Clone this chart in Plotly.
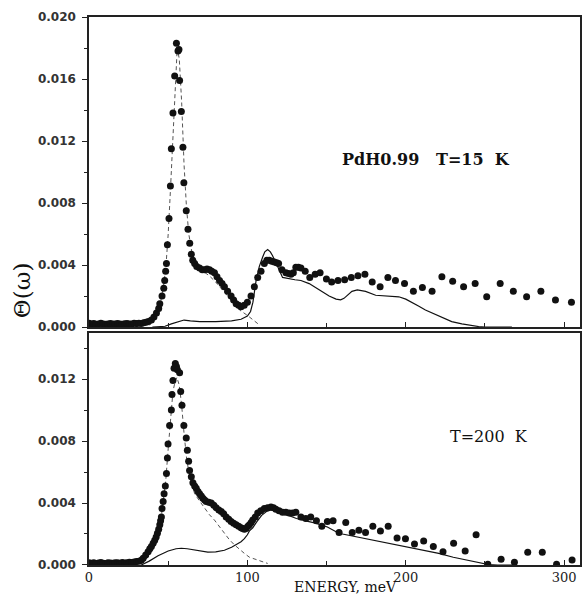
import plotly.graph_objects as go

S = 1e-3  # values below are in units of 0.001

# ---------------- Top panel (T = 15 K) ----------------
top_dots_x = [0, 1.5, 3, 4.5, 6, 7.5, 9, 10.5, 12, 13.5, 15, 16.5, 18, 19.5, 21, 22.5, 24, 25.5,
              27, 28.5, 30, 31.5, 33, 34.5, 36, 37.5,
              39.4, 41, 42.6, 44, 44.7, 46.1, 47.2, 47.8, 48.4, 48.9, 49.5, 50.5, 51.4, 52, 53,
              54.1, 55.2, 56.2, 56.8, 57.2, 58.3, 59.3, 59.9, 61.4, 62.5, 63.6, 64.6, 65.5, 66.7,
              68, 69.8, 71.5, 73, 74.5, 76.1, 77.5, 79.2, 80.8, 82.4, 84, 85.5, 87.5, 89.7, 91.3,
              92.9, 94.5, 96, 98, 100, 102.3, 104.4, 106.5, 108.6, 110.7, 112.3, 113.8, 115.4, 117,
              118.5, 119.7, 121.8, 124.3, 126, 127.5, 129, 130.6, 132.2, 133.8, 136.5, 139.4,
              142.8, 145.9, 149.9, 153.2, 157.2, 161.4, 165.6, 169.8, 174.2, 178.8, 183.8, 188.7,
              193.5, 199.2, 204.8, 210.5, 216.6, 222.8, 229.6, 236.5, 243.8, 251.1, 259.6, 267.9,
              276.3, 285.3, 294.5, 304.6]
top_dots_y = [0.25, 0.2, 0.22, 0.18, 0.2, 0.24, 0.2, 0.17, 0.2, 0.22, 0.2, 0.19, 0.23, 0.2, 0.18,
              0.21, 0.22, 0.2, 0.19, 0.24, 0.22, 0.25, 0.23, 0.27, 0.3, 0.35,
              0.45, 0.65, 0.9, 1.2, 1.5, 2.0, 2.5, 3.0, 3.6, 4.1, 5.3, 7.0, 9.1, 11.5, 13.8,
              16.2, 18.3, 17.8, 17.9, 15.9, 13.9, 11.6, 9.3, 7.5, 6.3, 5.4, 4.7, 4.3, 4.1,
              3.9, 3.8, 3.7, 3.7, 3.75, 3.7, 3.6, 3.5, 3.25, 3.0, 2.8, 2.6, 2.3, 2.0, 1.75,
              1.5, 1.4, 1.3, 1.4, 1.6, 2.0, 2.6, 3.2, 3.6, 4.1, 4.3, 4.3, 4.25, 4.2,
              4.15, 4.1, 3.7, 3.5, 3.45, 3.4, 3.5, 3.85, 3.85, 3.8, 3.6, 3.2,
              3.4, 3.5, 3.1, 2.9, 3.0, 3.05, 3.2, 3.3, 3.4, 2.9, 2.6, 3.2,
              3.0, 2.8, 2.3, 2.55, 2.3, 3.25, 2.95, 2.6, 2.8, 1.95, 2.8, 2.3,
              1.95, 2.3, 1.75, 1.6]

top_calc_x = [40, 48, 52, 56, 60, 64, 70, 80, 90, 96, 100, 102, 103.5, 105.5, 107.5, 109.6, 111,
              112.8, 114.5, 115.9, 117.5, 119.1, 122.2, 126.4, 130, 133.8, 139, 145.3, 151.6, 156,
              158.9, 161, 163.1, 166, 169.4, 174.6, 181, 189.3, 195.6, 200, 204, 208, 212.4,
              216.6, 220.8, 225, 229, 235.4, 241.7, 246, 250, 267]
top_calc_y = [0, 0.05, 0.2, 0.35, 0.45, 0.4, 0.35, 0.35, 0.4, 0.5, 0.7, 1.0, 1.6, 3.0, 3.9, 4.5,
              4.85, 5.0, 4.85, 4.6, 4.2, 3.9, 3.2, 3.1, 3.05, 3.0, 2.8, 2.4, 2.0, 1.8,
              1.75, 1.85, 2.05, 2.3, 2.4, 2.3, 2.05, 2.0, 1.95, 1.8, 1.55, 1.35, 1.1,
              0.9, 0.7, 0.55, 0.35, 0.2, 0.08, 0.03, 0, 0]

top_fit_x = [38, 42, 45, 47, 48.5, 50, 51.5, 53, 54.5, 55.7, 57, 58.5, 60, 61.5, 63, 65, 68, 72,
             76, 80, 85, 90, 95, 100, 104, 108]
top_fit_y = [0.1, 0.6, 1.5, 2.6, 3.8, 6.0, 9.0, 12.5, 16.0, 18.0, 17.3, 14.5, 10.5, 7.8, 6.0,
             4.8, 4.0, 3.6, 3.3, 2.9, 2.3, 1.7, 1.1, 0.75, 0.45, 0.1]

# ---------------- Bottom panel (T = 200 K) ----------------
bot_dots_x = [0, 1.5, 3, 4.5, 6, 7.5, 9, 10.5, 12, 13.5, 15, 16.5, 18, 19.5, 21, 22.5, 24, 25.5,
              27, 28.5, 30, 31.5, 33,
              34.2, 35.8, 37.3, 38.4, 39.4, 40.5, 41.5, 42.4, 43.2, 44, 44.7, 45.2, 45.7, 46.1,
              46.8, 47.4, 48.2, 48.9, 49.5, 49.9, 50.9, 52, 52.4, 53, 53.7, 54.5, 55.2, 55.8,
              57.2, 57.9, 58.7, 59.9, 61.4, 62.1, 62.9, 63.5, 64.6, 65.6, 66.7, 67.7, 68.8, 69.8,
              70.9, 71.9, 73, 74, 75.6, 77.2, 78.8, 80.3, 82, 83.5, 85, 86.6, 88.2, 89.7, 91.3,
              92.9, 94.5, 96, 97, 98.1, 99.2, 100.3, 101.3, 102.4, 103.4, 105, 106.5, 108.5,
              110.7, 112.8, 114.9, 116.5, 118, 120, 122.2, 124.3, 126.4, 128.5, 130.6, 133.8,
              136.9, 140, 143.6, 147, 150.5, 154.1, 157.9, 162.1, 166.2, 170.4, 174.6, 179.2,
              184, 188.9, 194.5, 199.8, 205.5, 211.3, 217.4, 223.5, 230.2, 237.5, 244.4, 251.8,
              260.2, 268.6, 277, 286.2, 295.2, 305]
bot_dots_y = [0.15, 0.12, 0.14, 0.1, 0.13, 0.16, 0.12, 0.1, 0.14, 0.13, 0.11, 0.15, 0.14, 0.12,
              0.16, 0.13, 0.15, 0.18, 0.16, 0.2, 0.22, 0.25, 0.3,
              0.43, 0.65, 0.86, 1.05, 1.2, 1.4, 1.6, 1.8, 2.05, 2.3, 2.6, 2.85, 3.1, 3.65,
              4.1, 4.6, 5.1, 5.9, 6.9, 7.8, 9.0, 10.0, 11.0, 11.9, 12.7, 13.0, 12.8, 12.6,
              12.4, 11.2, 10.3, 9.0, 8.2, 7.4, 6.7, 6.1, 5.7, 5.3, 5.1, 4.95, 4.75, 4.6,
              4.45, 4.3, 4.2, 4.1, 4.05, 4.0, 3.85, 3.7, 3.55, 3.45, 3.3, 3.1, 2.95, 2.8, 2.7,
              2.6, 2.5, 2.4, 2.35, 2.3, 2.35, 2.5, 2.6, 2.75, 2.9, 3.1, 3.35, 3.5,
              3.65, 3.7, 3.75, 3.7, 3.6, 3.5, 3.4, 3.4, 3.35, 3.35, 3.4, 3.1,
              3.0, 3.1, 2.85, 2.5, 2.8, 2.85, 2.1, 2.75, 2.1, 2.25, 2.1, 2.5,
              2.2, 2.5, 1.75, 1.7, 1.35, 1.55, 1.2, 0.86, 1.4, 0.9, 1.95, 0.05,
              0.37, 0.17, 0.82, 0.82, 0.05, 0.32]

bot_calc_x = [33, 38, 43.6, 50, 55, 58.3, 62, 66.7, 71, 75, 80, 85.5, 90, 92.9, 96, 98.1, 100,
              101.3, 103.4, 106, 109, 112, 115, 118, 122, 126.4, 131, 136.9, 143, 150.5, 156,
              160, 170, 178.8, 190, 199.8, 210, 220.8, 230, 239.6, 246, 252.2, 258, 270]
bot_calc_y = [0, 0.25, 0.6, 0.9, 1.05, 1.08, 1.05, 0.97, 0.88, 0.83, 0.85, 0.95, 1.15, 1.3, 1.5,
              1.7, 1.95, 2.2, 2.4, 2.8, 3.2, 3.45, 3.55, 3.5, 3.35, 3.15, 3.0, 2.85, 2.7, 2.45,
              2.15, 2.0, 1.8, 1.6, 1.4, 1.2, 1.0, 0.75, 0.5, 0.3, 0.15, 0.03, 0, 0]

bot_fit_x = [33, 38, 41, 43.5, 45.5, 47, 48.5, 50, 51.5, 53, 54.5, 55.5, 57, 58.5, 60, 61.5, 63,
             64.6, 66.7, 70, 73, 76, 79.2, 82, 85.5, 88.5, 91.8, 95, 98.1, 101.3, 104, 107.5,
             110, 112.8]
bot_fit_y = [0.05, 0.6, 1.2, 2.0, 3.0, 4.2, 5.5, 7.5, 9.5, 11.2, 11.9, 12.1, 11.6, 10.3, 8.5,
             7.0, 6.0, 5.4, 4.6, 4.1, 3.65, 3.25, 2.9, 2.5, 2.05, 1.65, 1.3, 1.0, 0.75, 0.5,
             0.4, 0.3, 0.2, 0.1]

top_label = "PdH0.99   T=15  K"
bot_label = "T=200  K"
x_ticks = [0, 100, 200, 300]
top_y_ticks = [0.000, 0.004, 0.008, 0.012, 0.016, 0.020]
bot_y_ticks = [0.000, 0.004, 0.008, 0.012]


def sc(v):
    return [a * S for a in v]


fig = go.Figure()

for xa, ya, dx, dy, cx, cy, fx, fy in [
    ("x", "y", top_dots_x, top_dots_y, top_calc_x, top_calc_y, top_fit_x, top_fit_y),
    ("x2", "y2", bot_dots_x, bot_dots_y, bot_calc_x, bot_calc_y, bot_fit_x, bot_fit_y),
]:
    fig.add_trace(go.Scatter(x=fx, y=sc(fy), mode="lines", xaxis=xa, yaxis=ya,
                             line=dict(color="#555", width=1, dash="4px,3px"), showlegend=False))
    fig.add_trace(go.Scatter(x=cx, y=sc(cy), mode="lines", xaxis=xa, yaxis=ya,
                             line=dict(color="#111", width=1.2), showlegend=False))
    fig.add_trace(go.Scatter(x=dx, y=sc(dy), mode="markers", xaxis=xa, yaxis=ya,
                             marker=dict(color="#111", size=7), showlegend=False))

axis_common = dict(showline=True, linecolor="#222", linewidth=1.5, mirror=True,
                   showgrid=False, zeroline=False)
ytick_font = dict(family="DejaVu Sans", size=12, color="#333", weight="bold")
xtick_font = dict(family="DejaVu Serif", size=13, color="#222")

fig.update_layout(
    width=583, height=597,
    margin=dict(l=89, r=1, t=17, b=32),
    paper_bgcolor="white", plot_bgcolor="white",
    xaxis=dict(domain=[0, 1], anchor="y", range=[0, 310], tickvals=x_ticks,
               showticklabels=False, ticks="inside", ticklen=5, tickcolor="#222",
               minor=dict(dtick=50, tick0=0, ticks="inside", ticklen=4, tickcolor="#222"),
               **axis_common),
    yaxis=dict(domain=[0.4343, 1], anchor="x", range=[0, 0.020], tickvals=top_y_ticks,
               tickformat=".3f", ticks="outside", ticklen=5, tickcolor="#222",
               tickfont=ytick_font, ticklabelstandoff=4,
               minor=dict(dtick=0.002, tick0=0, ticks="outside", ticklen=3, tickcolor="#222"),
               **axis_common),
    xaxis2=dict(domain=[0, 1], anchor="y2", range=[0, 310], tickvals=x_ticks,
                ticks="inside", ticklen=5, tickcolor="#222", tickfont=xtick_font,
                minor=dict(dtick=50, tick0=0, ticks="inside", ticklen=4, tickcolor="#222"),
                **axis_common),
    yaxis2=dict(domain=[0, 0.4234], anchor="x2", range=[0, 0.01497], tickvals=bot_y_ticks,
                tickformat=".3f", ticks="outside", ticklen=5, tickcolor="#222",
                tickfont=ytick_font, ticklabelstandoff=4,
                minor=dict(dtick=0.002, tick0=0, ticks="outside", ticklen=3, tickcolor="#222"),
                **axis_common),
    annotations=[
        dict(text=top_label, x=212.6, y=0.0108, xref="x", yref="y", showarrow=False,
             font=dict(family="DejaVu Serif", size=16, color="#111", weight="bold")),
        dict(text=bot_label, x=252.8, y=0.0083, xref="x2", yref="y2", showarrow=False,
             font=dict(family="DejaVu Serif", size=16, color="#111")),
        dict(text="ENERGY, meV", x=0.523, y=-0.04, xref="paper", yref="paper",
             showarrow=False, xanchor="center", yanchor="middle",
             font=dict(family="DejaVu Serif", size=14, color="#111")),
        dict(text="Θ(ω)", x=-0.136, y=0.502, xref="paper", yref="paper", showarrow=False,
             xanchor="center", yanchor="middle", textangle=-90,
             font=dict(family="DejaVu Serif", size=23, color="#111")),
    ],
)

fig.write_html("out.html")
